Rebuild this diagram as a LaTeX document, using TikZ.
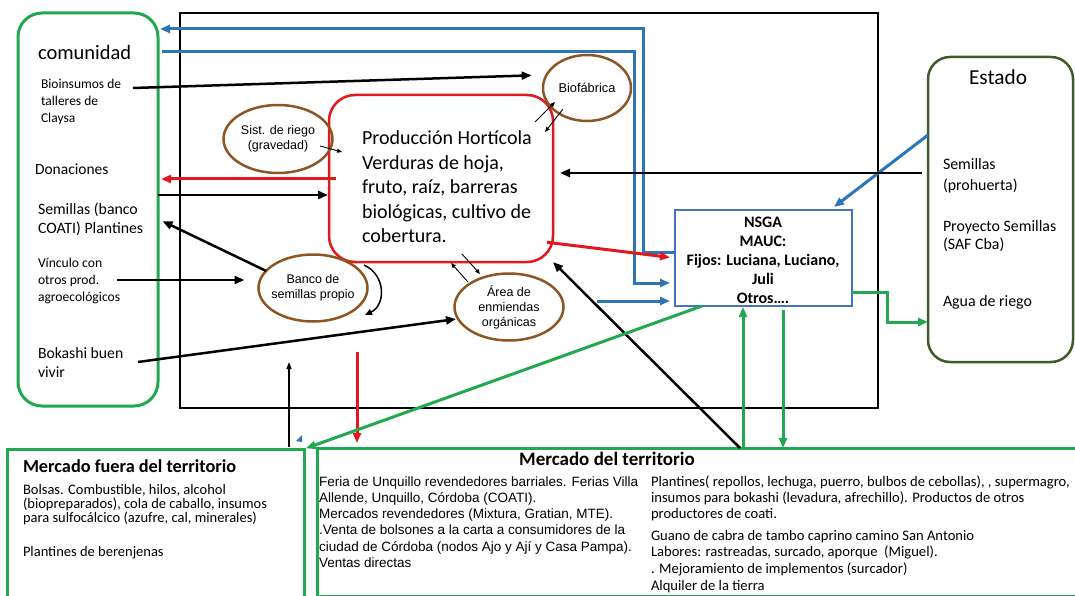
\documentclass[tikz,border=0pt]{standalone}
\usepackage{fontspec}
\setmainfont{Carlito}
\newfontfamily\arialf{Liberation Sans}
\usetikzlibrary{shapes.geometric,arrows.meta}
\definecolor{grn}{RGB}{34,168,80}
\definecolor{blu}{RGB}{46,117,182}
\definecolor{rdd}{RGB}{226,24,30}
\definecolor{brn}{RGB}{140,85,35}
\definecolor{oliv}{RGB}{62,92,40}
\definecolor{nsgab}{RGB}{70,114,196}
\begin{document}
\begin{tikzpicture}[x=1pt,y=-1pt,
  txt/.style={inner sep=0pt, outer sep=0pt, align=left},
  ell/.style={draw=brn, line width=2.5pt, ellipse, inner sep=-15pt, outer sep=0pt, align=center, font=\arialf\fontsize{12.5}{15}\selectfont},
  boxn/.style={inner sep=0pt, outer sep=0pt},
  arr/.style={-{Triangle[length=10pt,width=8pt]}},
  thinarr/.style={draw=black, line width=0.9pt, -{Triangle[length=5pt,width=4pt]}},
  bl/.style={draw=blu, line width=3pt},
  gr/.style={draw=grn, line width=3pt},
  rd/.style={draw=rdd, line width=3pt},
  bk/.style={draw=black, line width=2.5pt}
]
\useasboundingbox (0,0) rectangle (1075,596);

% boxes
\node[boxn, draw=black, line width=2.5pt, minimum width=698, minimum height=395] (frame) at (529,210.5) {};
\node[boxn, draw=grn, line width=3pt, rounded corners=24pt, minimum width=140, minimum height=393] (com) at (88,209.5) {};
\node[boxn, draw=rdd, line width=2.5pt, rounded corners=26pt, minimum width=224, minimum height=167] (prod) at (441,178.5) {};
\node[boxn, draw=nsgab, line width=2pt, minimum width=177, minimum height=96] (nsga) at (763.5,258) {};
\node[boxn, draw=oliv, line width=2.5pt, rounded corners=22pt, minimum width=145, minimum height=305] (est) at (1000.5,209.5) {};
\node[boxn, draw=grn, line width=3pt, minimum width=297, minimum height=170] (mf) at (155.5,534) {};
\node[boxn, draw=grn, line width=3pt, minimum width=763, minimum height=148] (mt) at (698.5,522) {};

% ellipses
\node[ell, minimum width=88, minimum height=66, font=\arialf\fontsize{12.8}{15}\selectfont] (bio) at (587,88) {Biofábrica};
\node[ell, minimum width=109, minimum height=68] (riego) at (278,139) {Sist. de riego\\(gravedad)};
\node[ell, minimum width=109, minimum height=67] (banco) at (313,288) {Banco de\\semillas propio};
\node[ell, minimum width=109, minimum height=67] (area) at (509,307) {Área de\\enmiendas\\orgánicas};

% texts comunidad
\node[txt, anchor=mid west, font=\fontsize{20.5}{24}\selectfont] (tcom) at (38,57) {comunidad};
\node[txt, anchor=north west, font=\fontsize{13.5}{17}\selectfont] (tbioin) at (41,79.5) {Bioinsumos de\\talleres de\\Claysa};
\node[txt, anchor=mid west, font=\fontsize{15.5}{19}\selectfont] (tdon) at (35,172) {Donaciones};
\node[txt, anchor=north west, font=\fontsize{15.8}{19}\selectfont] (tsem) at (38,203) {Semillas (banco\\COATI) Plantines};
\node[txt, anchor=north west, font=\fontsize{13.6}{17}\selectfont] (tvin) at (38,258.5) {Vínculo con\\otros prod.\\agroecológicos};
\node[txt, anchor=north west, font=\fontsize{15.7}{19}\selectfont] (tbok) at (38,348) {Bokashi buen\\vivir};

% production text
\node[txt, anchor=north west, font=\fontsize{20}{24.5}\selectfont] (tprod) at (362,131) {Producción Hortícola\\Verduras de hoja,\\fruto, raíz, barreras\\biológicas, cultivo de\\cobertura.};

% NSGA text
\node[txt, align=center, anchor=north, font=\bfseries\fontsize{16}{19}\selectfont] (tnsga) at (763,217) {NSGA\\MAUC:\\Fijos: Luciana, Luciano,\\Juli\\Otros….};

% Estado texts
\node[txt, anchor=mid, font=\fontsize{21.3}{25}\selectfont] (test) at (998,82) {Estado};
\node[txt, anchor=north west, font=\fontsize{15.9}{21.5}\selectfont] (tsp) at (943,158) {Semillas\\(prohuerta)};
\node[txt, anchor=north west, font=\fontsize{15.9}{18.5}\selectfont] (tps) at (943,220) {Proyecto Semillas\\(SAF Cba)};
\node[txt, anchor=mid west, font=\fontsize{15.9}{19}\selectfont] (tagua) at (943,304) {Agua de riego};

% Mercado fuera
\node[txt, anchor=mid west, font=\bfseries\fontsize{18.3}{21}\selectfont] (tmf) at (23,470.5) {Mercado fuera del territorio};
\node[txt, anchor=north west, font=\fontsize{14.5}{14}\selectfont] (tmfb) at (23,484) {Bolsas. Combustible, hilos, alcohol\\(biopreparados), cola de caballo, insumos\\para sulfocálcico (azufre, cal, minerales)};
\node[txt, anchor=mid west, font=\fontsize{14.5}{14}\selectfont] (tmfp) at (23,554) {Plantines de berenjenas};

% Mercado del territorio
\node[txt, anchor=mid, font=\bfseries\fontsize{19}{22}\selectfont] (tmt) at (607,463.5) {Mercado del territorio};
\node[txt, anchor=north west, font=\arialf\fontsize{13.5}{16.2}\selectfont] (tmtl) at (319,476.5) {Feria de Unquillo revendedores barriales. Ferias Villa\\Allende, Unquillo, Córdoba (COATI).\\Mercados revendedores (Mixtura, Gratian, MTE).\\.Venta de bolsones a la carta a consumidores de la\\ciudad de Córdoba (nodos Ajo y Ají y Casa Pampa).\\Ventas directas};
\node[txt, anchor=north west, font=\fontsize{14.6}{16.4}\selectfont] (tmtr1) at (651,475.5) {Plantines( repollos, lechuga, puerro, bulbos de cebollas), , supermagro,\\insumos para bokashi (levadura, afrechillo). Productos de otros\\productores de coati.};
\node[txt, anchor=north west, font=\fontsize{14.6}{16.7}\selectfont] (tmtr2) at (651,530) {Guano de cabra de tambo caprino camino San Antonio\\Labores: rastreadas, surcado, aporque\ \ (Miguel).\\. Mejoramiento de implementos (surcador)\\Alquiler de la tierra};

% free coordinates
\coordinate (b3) at (597,301);
\coordinate (bioin) at (133,88);
\coordinate (rg1) at (320,146);
\coordinate (rg2) at (342,152);
\coordinate (bp1) at (535,122);
\coordinate (bp2) at (555,102);
\coordinate (bp3) at (563,109);
\coordinate (bp4) at (545,132);
\coordinate (pa1) at (468,282);
\coordinate (pa2) at (451,263);
\coordinate (pa3) at (462,254);
\coordinate (pa4) at (480,274);
\coordinate (vin) at (117,280);
\coordinate (bok) at (138,362);
\coordinate (bc1) at (364,265);
\coordinate (bc2) at (365,315);
\coordinate (rd1) at (357,352);
\coordinate (bu) at (289,362);

% blue connectors
\draw[bl, arr, shorten >=2pt] (nsga.west |- 0,252) -- (643,252) -- (643,29) -- (com.east |- 0,29);
\draw[bl, arr, shorten <=4pt, shorten >=5pt] (com.east |- 0,52) -- (634,52) -- (634,283) -- (nsga.west |- 0,283);
\draw[bl, arr, shorten >=5pt] (b3) -- (nsga.west |- 0,301);
\draw[bl, arr, shorten >=5pt] (est.west |- 0,135) -- (nsga.north -| 830,0);

% black connectors
\draw[bk, arr, shorten <=6pt, shorten >=7pt] (est.west |- 0,173) -- (prod.east |- 0,173);
\draw[bk, arr, shorten >=15pt] (bioin) -- (bio.162);
\draw[bk, arr, shorten >=1pt] (com.east |- 0,195) -- (prod.west |- 0,195);
\draw[bk, arr, shorten >=5pt] (banco.160) -- (com.east |- 0,219);
\draw[bk, arr, shorten >=14pt] (vin) -- (banco.west |- 0,280);
\draw[bk, arr, shorten >=2pt] (bok) -- (area.193);
\draw[bk, arr] (mt.north -| 740,0) -- (prod.south east);
\draw[draw=black, line width=1.5pt, -{Triangle[length=7pt,width=6pt]}] (bc1) .. controls (386,275) and (386,305) .. (bc2);
\draw[draw=black, line width=1.5pt, -{Triangle[length=7pt,width=5pt]}, shorten <=2pt] (mf.north -| 289,0) -- (bu);

% thin arrows
\draw[thinarr] (rg1) -- (rg2);
\draw[thinarr] (bp1) -- (bp2);
\draw[thinarr] (bp3) -- (bp4);
\draw[thinarr] (pa1) -- (pa2);
\draw[thinarr] (pa3) -- (pa4);

% red connectors
\draw[rd, arr, shorten <=-7pt, shorten >=3pt] (prod.west |- 0,179) -- (com.east |- 0,179);
\draw[rd, arr, shorten <=-6pt, shorten >=5pt] (prod.east |- 0,243) -- (nsga.west |- 0,258);
\draw[rd, arr, shorten >=5pt] (rd1) -- (mt.north -| 357,0);

% green connectors
\draw[gr, arr] (nsga.east |- 0,292) -- (887,292) -- (887,322) -- (est.west |- 0,322);
\draw[gr, arr, shorten >=2pt] (nsga.south -| 702,0) -- (mf.north east);
\draw[gr, arr, shorten >=1pt] (mt.north -| 743,0) -- (nsga.south -| 743,0);
\draw[gr, arr, shorten <=4pt] (nsga.south -| 783,0) -- (mt.north -| 783,0);

% small blue mark
\fill[blu] (296,441) -- (302,435) -- (302,442) -- cycle;
\end{tikzpicture}
\end{document}
